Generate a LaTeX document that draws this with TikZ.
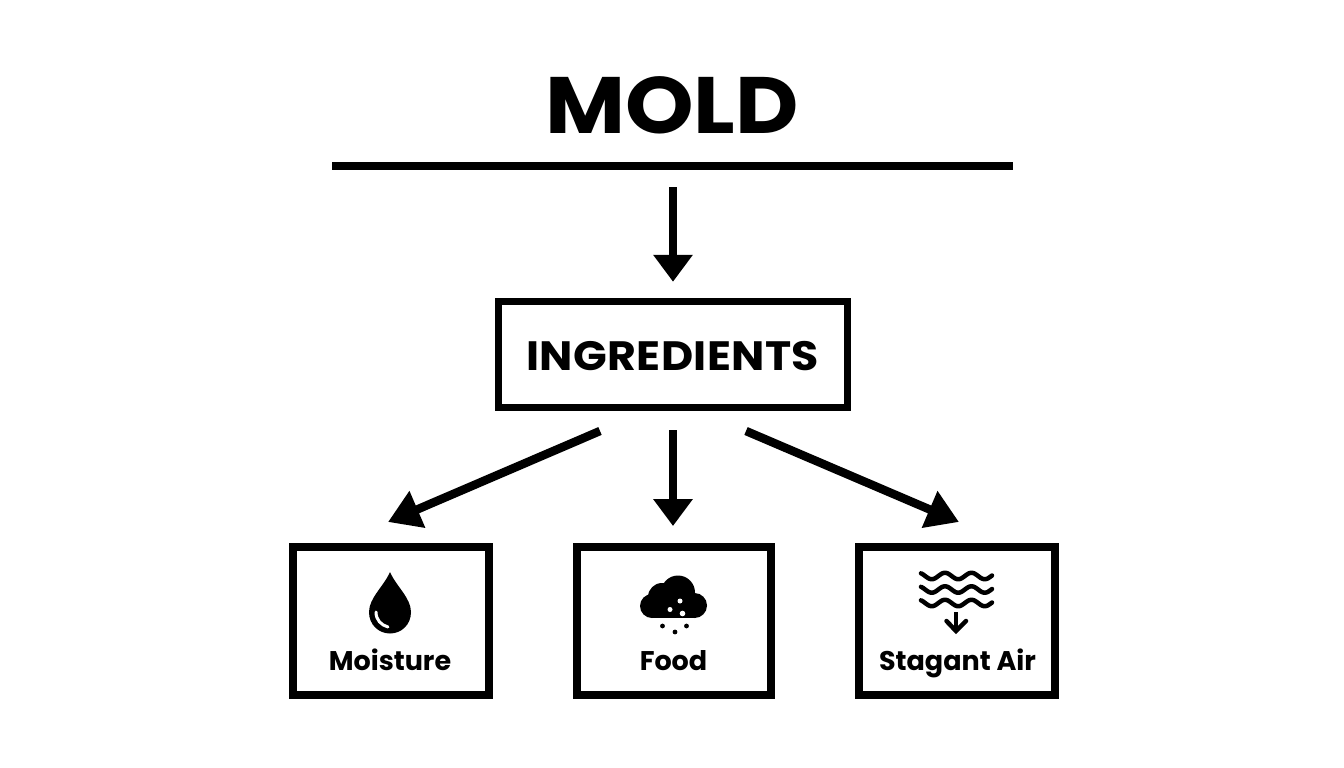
\documentclass[tikz,border=0pt]{standalone}
\usepackage{fontspec}
\setmainfont{Poppins}
\newfontfamily\wideA{Poppins}[FakeStretch=1.09]
\newfontfamily\wideB{Poppins}[FakeStretch=1.08,LetterSpace=1]
\usetikzlibrary{arrows.meta}
\tikzset{
  conn/.style={line width=8.5pt,draw=black,-{Triangle[length=27pt,width=38pt]}},
  diag/.style={line width=8.5pt,draw=black,-{Triangle[length=32pt,width=38pt]}},
  lab/.style={font=\fontsize{27}{27}\selectfont\bfseries,inner sep=0pt,anchor=base},
  wave/.style={line width=4.5pt,line cap=round,draw=black},
}
\begin{document}
\begin{tikzpicture}[x=1pt,y=-1pt]
\useasboundingbox (0,0) rectangle (1344,768);
\fill[white] (0,0) rectangle (1344,768);
\node[font=\fontsize{80}{80}\wideA\bfseries,inner sep=0pt,anchor=base] (title) at (672,133) {MOLD};
\coordinate (ruleL) at (332,166);
\coordinate (ruleR) at (1013,166);
\coordinate (ruleC) at (673,166);
\draw[line width=8.5pt] (ruleL) -- (ruleR);
\node[draw=black,line width=7.5pt,minimum width=349pt,minimum height=106pt,inner sep=0pt] (ing) at (673,354.5) {};
\node[font=\fontsize{41}{41}\wideB\bfseries,inner sep=0pt,anchor=base] (ingt) at (672.5,370.5) {INGREDIENTS};
\node[draw=black,line width=8pt,minimum width=196pt,minimum height=148pt,inner sep=0pt] (m) at (391,621) {};
\node[draw=black,line width=8pt,minimum width=194pt,minimum height=148pt,inner sep=0pt] (f) at (674,621) {};
\node[draw=black,line width=8pt,minimum width=196pt,minimum height=148pt,inner sep=0pt] (s) at (957,621) {};
\draw[conn,shorten <=21pt,shorten >=16pt] (ruleC) -- (ing.north -| ruleC);
\coordinate (a1) at (600,431);
\coordinate (a2) at (388,522);
\coordinate (b1) at (673,430);
\coordinate (b2) at (673,526);
\coordinate (c1) at (746,431);
\coordinate (c2) at (959,522);
\draw[diag] (a1) -- (a2);
\draw[conn] (b1) -- (b2);
\draw[diag] (c1) -- (c2);
% drop
\fill (390,572) .. controls (384,586) and (369,598) .. (369,612)
  .. controls (369,625) and (379,633.5) .. (390,633.5)
  .. controls (401,633.5) and (411,625) .. (411,612)
  .. controls (411,598) and (396,586) .. (390,572) -- cycle;
\draw[white,line width=3pt,line cap=round] (376,612) .. controls (376,620) and (381,625) .. (388,627);
\node[lab] (mt) at (390,670) {Moisture};
% cloud
\fill (652,606) circle (12);
\fill (662,597) circle (14);
\fill (678,592.5) circle (17);
\fill (694.5,605.5) circle (12.5);
\fill (652,600) rectangle (695,618);
\fill[white] (680,601) circle (2.5) (670,609.5) circle (2.5) (682.5,613.5) circle (2.8);
\fill (662.5,626) circle (2.4) (686.5,626) circle (2.4) (675,632) circle (2.4);
\node[lab] (ft) at (673.5,670) {Food};
% waves
\foreach \yy in {576,589.5,603}{
  \draw[wave] plot[domain=921:992,samples=80,smooth] (\x,{\yy-3.2*cos((\x-945)*13.6)});
}
\draw[wave,line width=4.5pt,line cap=butt] (956,612) -- (956,630);
\draw[wave,line join=miter] (946.5,621) -- (956,631) -- (966,621);
\node[lab] (st) at (957.5,670) {Stagant Air};
\end{tikzpicture}
\end{document}
